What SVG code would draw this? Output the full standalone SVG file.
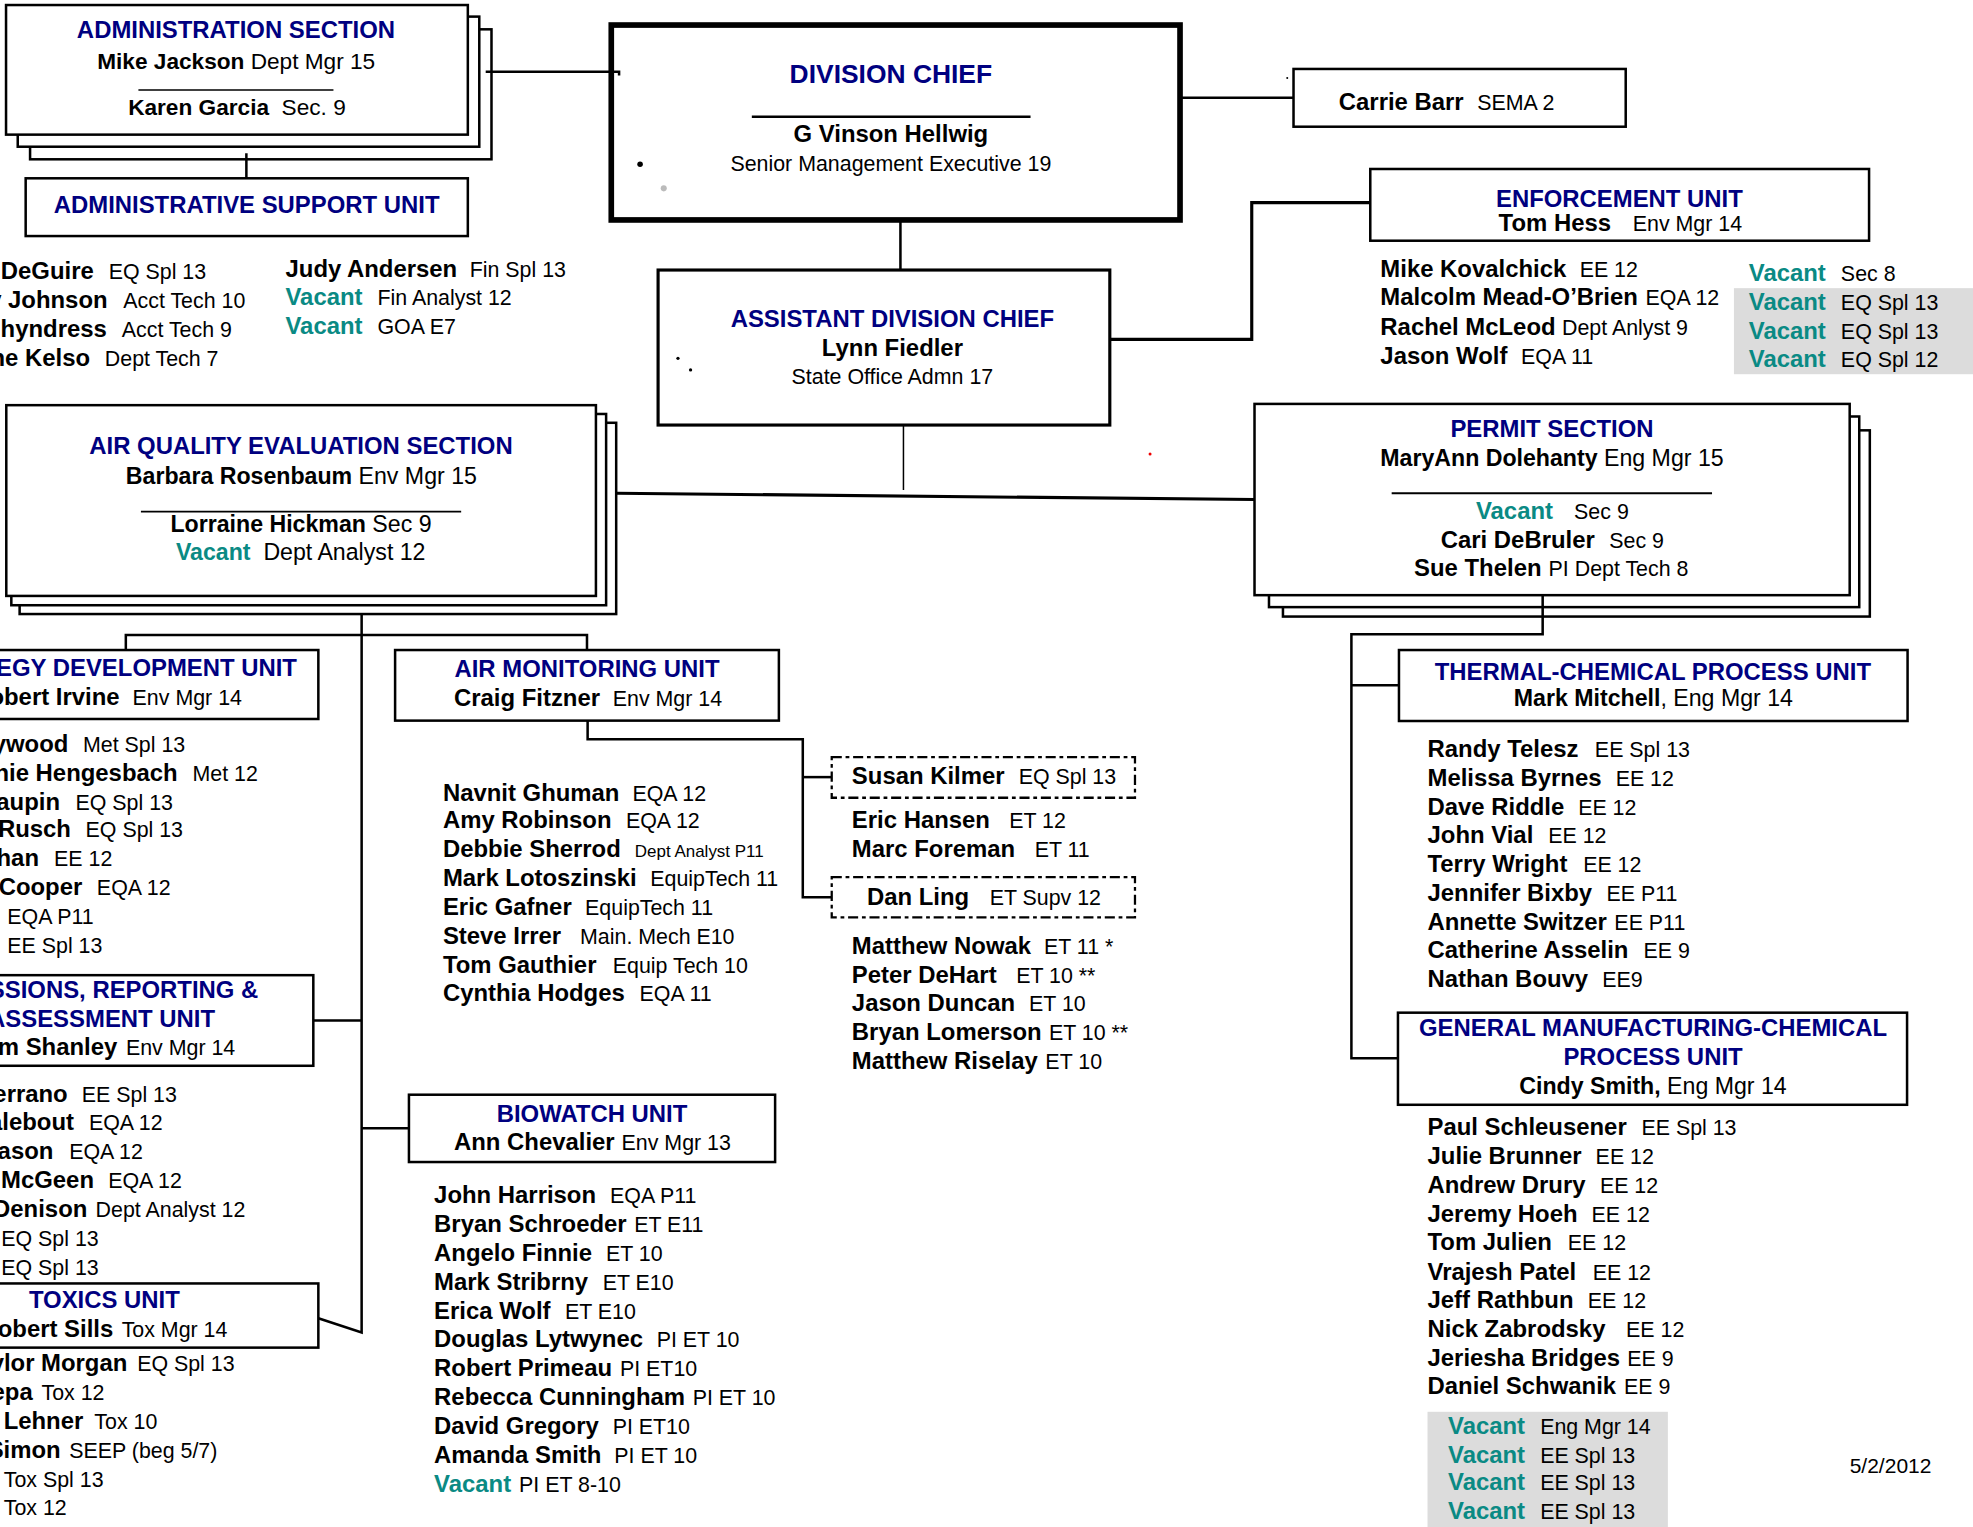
<svg xmlns="http://www.w3.org/2000/svg" width="1973" height="1527" viewBox="0 0 1973 1527">
<style>
text{font-family:"Liberation Sans",Arial,Helvetica,sans-serif;font-size:17px;fill:#000}
.h{font-size:18.4px}
.t{font-size:19px;font-weight:bold;fill:#000080}
.b{font-weight:bold}
.n{font-weight:bold;font-size:19px}
.v{font-weight:bold;fill:#0a8a84}
.vn{font-size:19px}
.m{text-anchor:middle}
.e{text-anchor:end}
.box{fill:#fff;stroke:#000;stroke-width:2}
.dash{fill:#fff;stroke:#000;stroke-width:1.8;stroke-dasharray:8 3 3 3}
.c{fill:none;stroke:#000;stroke-width:2}
.g{fill:#dcdcdc}
</style>
<rect width="1973" height="1527" fill="#fff"/>
<g transform="scale(1.25829)">

<g id="admin-section">
<rect class="box" x="23.9" y="23.3" width="366.7" height="103.3"/>
<rect class="box" x="14.1" y="13.2" width="366.8" height="103.4"/>
<rect class="box" x="4.8" y="4" width="367" height="103"/>
<text class="t m" x="187.5" y="30.5">ADMINISTRATION SECTION</text>
<text class="m" x="187.7" y="54.8" style="font-size:18px"><tspan class="b">Mike Jackson</tspan> Dept Mgr 15</text>
<line x1="110" y1="71.5" x2="265" y2="71.5" stroke="#000" stroke-width="1.3"/>
<text class="m" x="188.3" y="91.8" style="font-size:18px"><tspan class="b">Karen Garcia</tspan>&#160; Sec. 9</text>
</g>

<g id="admin-support-unit">
<rect class="box" x="20.4" y="141.7" width="351.4" height="45.9"/>
<text class="t m" x="196" y="169.5">ADMINISTRATIVE SUPPORT UNIT</text>
<text class="n e" x="74.5" y="221.6">DeGuire</text><text x="86.4" y="221.6">EQ Spl 13</text>
<text class="n e" x="85.5" y="245">y Johnson</text><text x="98" y="245">Acct Tech 10</text>
<text class="n e" x="84.9" y="268">hyndress</text><text x="96.8" y="268">Acct Tech 9</text>
<text class="n e" x="71.6" y="290.5">ne Kelso</text><text x="83.3" y="290.5">Dept Tech 7</text>
<text x="226.9" y="220.3"><tspan class="n">Judy Andersen</tspan><tspan x="373.3">Fin Spl 13</tspan></text>
<text x="226.9" y="242.8"><tspan class="v vn">Vacant</tspan><tspan x="300">Fin Analyst 12</tspan></text>
<text x="226.9" y="265.3"><tspan class="v vn">Vacant</tspan><tspan x="300">GOA E7</tspan></text>
</g>

<g id="division-chief">
<rect x="485.8" y="19.9" width="452" height="154.9" fill="#fff" stroke="#000" stroke-width="4.5"/>
<text class="m" x="708" y="66.2" style="font-size:21px;font-weight:bold;fill:#000080">DIVISION CHIEF</text>
<line x1="597.5" y1="92.7" x2="819" y2="92.7" stroke="#000" stroke-width="2"/>
<text class="b m" x="708" y="112.8" style="font-size:19px">G Vinson Hellwig</text>
<text class="m" x="708" y="135.8">Senior Management Executive 19</text>
<circle cx="508.7" cy="130.6" r="2.2" fill="#000"/>
<circle cx="527.5" cy="149.7" r="2.4" fill="#bbb"/>
</g>

<g id="carrie-barr">
<rect class="box" x="1028" y="54.8" width="264" height="45.9"/>
<text x="1064" y="87.8"><tspan class="n">Carrie Barr</tspan><tspan x="1174">SEMA 2</tspan></text>
<circle cx="1023" cy="62" r="0.8" fill="#000"/>
</g>

<g id="assistant-division-chief">
<rect class="box" x="523" y="214.6" width="359" height="123.2" style="stroke-width:2.5"/>
<text class="t m" x="709.2" y="259.8">ASSISTANT DIVISION CHIEF</text>
<text class="n m" x="709.2" y="283.3">Lynn Fiedler</text>
<text class="m" x="709.2" y="304.9">State Office Admn 17</text>
<circle cx="538.8" cy="284.8" r="1.3" fill="#000"/>
<circle cx="548.8" cy="294" r="1.3" fill="#000"/>
</g>

<g id="enforcement-unit">
<rect class="box" x="1089" y="134.3" width="396.4" height="57"/>
<text class="t m" x="1287" y="164.5">ENFORCEMENT UNIT</text>
<text x="1191" y="183.6"><tspan class="n">Tom Hess</tspan><tspan x="1297.6">Env Mgr 14</tspan></text>
<text x="1097" y="220.3"><tspan class="n">Mike Kovalchick</tspan><tspan x="1255.4">EE 12</tspan></text>
<text x="1097" y="242.8"><tspan class="n">Malcolm Mead-O’Brien</tspan><tspan x="1307.8">EQA 12</tspan></text>
<text x="1097" y="266.1"><tspan class="n">Rachel McLeod</tspan><tspan x="1241.4">Dept Anlyst 9</tspan></text>
<text x="1097" y="289.1"><tspan class="n">Jason Wolf</tspan><tspan x="1208.8">EQA 11</tspan></text>
<rect class="g" x="1378" y="229" width="200" height="68.4"/>
<text x="1389.8" y="223.7"><tspan class="v vn">Vacant</tspan><tspan x="1463">Sec 8</tspan></text>
<text x="1389.8" y="246.2"><tspan class="v vn">Vacant</tspan><tspan x="1463">EQ Spl 13</tspan></text>
<text x="1389.8" y="269.3"><tspan class="v vn">Vacant</tspan><tspan x="1463">EQ Spl 13</tspan></text>
<text x="1389.8" y="291.8"><tspan class="v vn">Vacant</tspan><tspan x="1463">EQ Spl 12</tspan></text>
</g>

<g id="air-quality-evaluation-section">
<rect class="box" x="15.6" y="336" width="474.1" height="152"/>
<rect class="box" x="9" y="329" width="472.7" height="152"/>
<rect class="box" x="5" y="322" width="468.6" height="151.6"/>
<text class="t m" x="239.2" y="360.5">AIR QUALITY EVALUATION SECTION</text>
<text class="h m" x="239.5" y="384.4"><tspan class="b">Barbara Rosenbaum</tspan> Env Mgr 15</text>
<line x1="112" y1="406.6" x2="366.5" y2="406.6" stroke="#000" stroke-width="1.5"/>
<text class="h m" x="239.2" y="422.8"><tspan class="b">Lorraine Hickman</tspan> Sec 9</text>
<text class="h m" x="239" y="445.3"><tspan class="v">Vacant</tspan>&#160; Dept Analyst 12</text>
</g>

<g id="permit-section">
<rect class="box" x="1019.6" y="342" width="466.4" height="148"/>
<rect class="box" x="1008.5" y="331" width="469.1" height="151.5"/>
<rect class="box" x="997" y="321" width="473" height="152"/>
<text class="t m" x="1233.4" y="347.2">PERMIT SECTION</text>
<text class="h m" x="1233.4" y="370.3"><tspan class="b">MaryAnn Dolehanty</tspan> Eng Mgr 15</text>
<line x1="1106" y1="392" x2="1360.6" y2="392" stroke="#000" stroke-width="1.5"/>
<text x="1173" y="412.4"><tspan class="v vn">Vacant</tspan><tspan x="1251">Sec 9</tspan></text>
<text x="1145" y="435.4"><tspan class="n">Cari DeBruler</tspan><tspan x="1279">Sec 9</tspan></text>
<text x="1123.8" y="457.9"><tspan class="n">Sue Thelen</tspan><tspan x="1230.7">PI Dept Tech 8</tspan></text>
</g>

<g id="strategy-development-unit">
<rect class="box" x="-90" y="516.6" width="343" height="54.8"/>
<text class="t e" x="236" y="537.4">EGY DEVELOPMENT UNIT</text>
<text class="n e" x="95" y="560.6">obert Irvine</text><text x="105.4" y="560.6">Env Mgr 14</text>
<text class="n e" x="54.3" y="597.8">ywood</text><text x="66" y="597.8">Met Spl 13</text>
<text class="n e" x="141.2" y="620.4">nie Hengesbach</text><text x="153" y="620.4">Met 12</text>
<text class="n e" x="47.7" y="643.4">aupin</text><text x="60" y="643.4">EQ Spl 13</text>
<text class="n e" x="56.4" y="665.4">Rusch</text><text x="68" y="665.4">EQ Spl 13</text>
<text class="n e" x="31" y="688.4">han</text><text x="43" y="688.4">EE 12</text>
<text class="n e" x="65.4" y="711.4">Cooper</text><text x="77" y="711.4">EQA 12</text>
<text x="5.8" y="734.4">EQA P11</text>
<text x="5.8" y="757.4">EE Spl 13</text>
</g>

<g id="emissions-reporting-assessment-unit">
<rect class="box" x="-90" y="775" width="339" height="72"/>
<text class="t e" x="205.3" y="793.1">SSIONS, REPORTING &amp;</text>
<text class="t e" x="170.9" y="816.1">ASSESSMENT UNIT</text>
<text class="n e" x="93.2" y="838.7">m Shanley</text><text x="100.1" y="838.7">Env Mgr 14</text>
<text class="n e" x="53.8" y="875.9">errano</text><text x="65" y="875.9">EE Spl 13</text>
<text class="n e" x="58.8" y="898.4">alebout</text><text x="70.7" y="898.4">EQA 12</text>
<text class="n e" x="42.4" y="921.4">ason</text><text x="55" y="921.4">EQA 12</text>
<text class="n e" x="74.7" y="944.4">McGeen</text><text x="86" y="944.4">EQA 12</text>
<text class="n e" x="69.4" y="967.4">Denison</text><text x="76" y="967.4">Dept Analyst 12</text>
<text x="1" y="990.4">EQ Spl 13</text>
<text x="1" y="1013.4">EQ Spl 13</text>
</g>

<g id="toxics-unit">
<rect class="box" x="-90" y="1020" width="343" height="51"/>
<text class="t" x="23" y="1039.9">TOXICS UNIT</text>
<text class="n e" x="90" y="1062.3">obert Sills</text><text x="96.7" y="1062.3">Tox Mgr 14</text>
<text class="n e" x="101.2" y="1089.4">ylor Morgan</text><text x="109" y="1089.4">EQ Spl 13</text>
<text class="n e" x="26" y="1112.4">epa</text><text x="33" y="1112.4">Tox 12</text>
<text class="n e" x="66.2" y="1135.4">Lehner</text><text x="75" y="1135.4">Tox 10</text>
<text class="n e" x="48.2" y="1158.4">Simon</text><text x="55" y="1158.4">SEEP (beg 5/7)</text>
<text x="3" y="1181.9">Tox Spl 13</text>
<text x="3" y="1204.4">Tox 12</text>
</g>

<g id="air-monitoring-unit">
<rect class="box" x="314" y="516.6" width="305" height="56.1"/>
<text class="t m" x="466.5" y="538">AIR MONITORING UNIT</text>
<text x="360.8" y="561.3"><tspan class="n">Craig Fitzner</tspan><tspan x="487">Env Mgr 14</tspan></text>
<text x="352" y="636.4"><tspan class="n">Navnit Ghuman</tspan><tspan x="502.6">EQA 12</tspan></text>
<text x="352" y="658.4"><tspan class="n">Amy Robinson</tspan><tspan x="497.5">EQA 12</tspan></text>
<text x="352" y="681.4"><tspan class="n">Debbie Sherrod</tspan><tspan x="504.5" style="font-size:13.5px">Dept Analyst P11</tspan></text>
<text x="352" y="704.4"><tspan class="n">Mark Lotoszinski</tspan><tspan x="516.8">EquipTech 11</tspan></text>
<text x="352" y="726.8"><tspan class="n">Eric Gafner</tspan><tspan x="465">EquipTech 11</tspan></text>
<text x="352" y="750"><tspan class="n">Steve Irrer</tspan><tspan x="461">Main. Mech E10</tspan></text>
<text x="352" y="772.9"><tspan class="n">Tom Gauthier</tspan><tspan x="487">Equip Tech 10</tspan></text>
<text x="352" y="795.4"><tspan class="n">Cynthia Hodges</tspan><tspan x="508.3">EQA 11</tspan></text>
</g>

<g id="susan-kilmer">
<rect class="dash" x="661" y="601.8" width="241" height="32.2"/>
<text x="677" y="623.4"><tspan class="n">Susan Kilmer</tspan><tspan x="809.6">EQ Spl 13</tspan></text>
<text x="677" y="658.4"><tspan class="n">Eric Hansen</tspan><tspan x="802">ET 12</tspan></text>
<text x="677" y="681.4"><tspan class="n">Marc Foreman</tspan><tspan x="822.3">ET 11</tspan></text>
</g>

<g id="dan-ling">
<rect class="dash" x="661" y="697" width="241" height="32"/>
<text x="689" y="719"><tspan class="n">Dan Ling</tspan><tspan x="786.5">ET Supv 12</tspan></text>
<text x="677" y="757.9"><tspan class="n">Matthew Nowak</tspan><tspan x="829.7">ET 11 *</tspan></text>
<text x="677" y="780.9"><tspan class="n">Peter DeHart</tspan><tspan x="807.6">ET 10 **</tspan></text>
<text x="677" y="803.4"><tspan class="n">Jason Duncan</tspan><tspan x="817.8">ET 10</tspan></text>
<text x="677" y="826.4"><tspan class="n">Bryan Lomerson</tspan><tspan x="833.6">ET 10 **</tspan></text>
<text x="677" y="849.4"><tspan class="n">Matthew Riselay</tspan><tspan x="830.8">ET 10</tspan></text>
</g>

<g id="biowatch-unit">
<rect class="box" x="325" y="870" width="291" height="53.5"/>
<text class="t m" x="470.5" y="891.6">BIOWATCH UNIT</text>
<text x="360.8" y="914.3"><tspan class="n">Ann Chevalier</tspan><tspan x="494">Env Mgr 13</tspan></text>
<text x="345" y="956.2"><tspan class="n">John Harrison</tspan><tspan x="484.8">EQA P11</tspan></text>
<text x="345" y="979.2"><tspan class="n">Bryan Schroeder</tspan><tspan x="504">ET E11</tspan></text>
<text x="345" y="1002.1"><tspan class="n">Angelo Finnie</tspan><tspan x="481.6">ET 10</tspan></text>
<text x="345" y="1025"><tspan class="n">Mark Stribrny</tspan><tspan x="479">ET E10</tspan></text>
<text x="345" y="1047.9"><tspan class="n">Erica Wolf</tspan><tspan x="449">ET E10</tspan></text>
<text x="345" y="1070.8"><tspan class="n">Douglas Lytwynec</tspan><tspan x="521.9">PI ET 10</tspan></text>
<text x="345" y="1093.7"><tspan class="n">Robert Primeau</tspan><tspan x="492.7">PI ET10</tspan></text>
<text x="345" y="1116.6"><tspan class="n">Rebecca Cunningham</tspan><tspan x="550.5">PI ET 10</tspan></text>
<text x="345" y="1139.5"><tspan class="n">David Gregory</tspan><tspan x="486.9">PI ET10</tspan></text>
<text x="345" y="1162.4"><tspan class="n">Amanda Smith</tspan><tspan x="488.2">PI ET 10</tspan></text>
<text x="345" y="1185.4"><tspan class="v vn">Vacant</tspan><tspan x="412.5">PI ET 8-10</tspan></text>
</g>

<g id="thermal-chemical-process-unit">
<rect class="box" x="1111.8" y="516.6" width="404.2" height="56.4"/>
<text class="t m" x="1313.6" y="540.6">THERMAL-CHEMICAL PROCESS UNIT</text>
<text class="h m" x="1314" y="561.1"><tspan class="b">Mark Mitchell</tspan>, Eng Mgr 14</text>
<text x="1134.5" y="601.4"><tspan class="n">Randy Telesz</tspan><tspan x="1267.5">EE Spl 13</tspan></text>
<text x="1134.5" y="624.8"><tspan class="n">Melissa Byrnes</tspan><tspan x="1284">EE 12</tspan></text>
<text x="1134.5" y="647.4"><tspan class="n">Dave Riddle</tspan><tspan x="1254.2">EE 12</tspan></text>
<text x="1134.5" y="670.1"><tspan class="n">John Vial</tspan><tspan x="1230.4">EE 12</tspan></text>
<text x="1134.5" y="693.1"><tspan class="n">Terry Wright</tspan><tspan x="1258.2">EE 12</tspan></text>
<text x="1134.5" y="716.2"><tspan class="n">Jennifer Bixby</tspan><tspan x="1276.7">EE P11</tspan></text>
<text x="1134.5" y="738.9"><tspan class="n">Annette Switzer</tspan><tspan x="1283">EE P11</tspan></text>
<text x="1134.5" y="761.4"><tspan class="n">Catherine Asselin</tspan><tspan x="1306.2">EE 9</tspan></text>
<text x="1134.5" y="784.4"><tspan class="n">Nathan Bouvy</tspan><tspan x="1273.4">EE9</tspan></text>
</g>

<g id="general-manufacturing-chemical-process-unit">
<rect class="box" x="1111" y="804.8" width="404.6" height="73.2"/>
<text class="t m" x="1313.7" y="823.5">GENERAL MANUFACTURING-CHEMICAL</text>
<text class="t m" x="1313.7" y="846.6">PROCESS UNIT</text>
<text class="h m" x="1313.7" y="869.1"><tspan class="b">Cindy Smith,</tspan> Eng Mgr 14</text>
<text x="1134.5" y="902.4"><tspan class="n">Paul Schleusener</tspan><tspan x="1304.5">EE Spl 13</tspan></text>
<text x="1134.5" y="925.4"><tspan class="n">Julie Brunner</tspan><tspan x="1268.1">EE 12</tspan></text>
<text x="1134.5" y="948.2"><tspan class="n">Andrew Drury</tspan><tspan x="1271.5">EE 12</tspan></text>
<text x="1134.5" y="970.8"><tspan class="n">Jeremy Hoeh</tspan><tspan x="1264.9">EE 12</tspan></text>
<text x="1134.5" y="993.8"><tspan class="n">Tom Julien</tspan><tspan x="1246">EE 12</tspan></text>
<text x="1134.5" y="1016.9"><tspan class="n">Vrajesh Patel</tspan><tspan x="1265.8">EE 12</tspan></text>
<text x="1134.5" y="1039.4"><tspan class="n">Jeff Rathbun</tspan><tspan x="1261.9">EE 12</tspan></text>
<text x="1134.5" y="1062.7"><tspan class="n">Nick Zabrodsky</tspan><tspan x="1292.3">EE 12</tspan></text>
<text x="1134.5" y="1085.8"><tspan class="n">Jeriesha Bridges</tspan><tspan x="1293.3">EE 9</tspan></text>
<text x="1134.5" y="1108.2"><tspan class="n">Daniel Schwanik</tspan><tspan x="1290.7">EE 9</tspan></text>
<rect class="g" x="1134.5" y="1122" width="191" height="95"/>
<text x="1150.8" y="1139.4"><tspan class="v vn">Vacant</tspan><tspan x="1224">Eng Mgr 14</tspan></text>
<text x="1150.8" y="1162.4"><tspan class="v vn">Vacant</tspan><tspan x="1224">EE Spl 13</tspan></text>
<text x="1150.8" y="1184.4"><tspan class="v vn">Vacant</tspan><tspan x="1224">EE Spl 13</tspan></text>
<text x="1150.8" y="1206.9"><tspan class="v vn">Vacant</tspan><tspan x="1224">EE Spl 13</tspan></text>
</g>

<g id="connectors">
<path class="c" d="M386 57 H492 V60"/>
<path class="c" d="M195.8 121.8 V141.7"/>
<path class="c" d="M715.6 174.8 V214.6"/>
<path class="c" d="M718 337.8 V389.4" style="stroke-width:1.2"/>
<path class="c" d="M937.8 77.6 H1028"/>
<path class="c" d="M882 269.7 H994.8 V161 H1089" style="stroke-width:2.5"/>
<path class="c" d="M490 392 L997 397" style="stroke-width:2.5"/>
<path class="c" d="M287.4 488 V1059 L253 1047.6"/>
<path class="c" d="M100 516.6 V504.6 H466.5 V516.6"/>
<path class="c" d="M249 811 H287.4"/>
<path class="c" d="M287.4 896.6 H325"/>
<path class="c" d="M467 572.7 V587.5 H638 V713 H661"/>
<path class="c" d="M638 617.6 H661"/>
<path class="c" d="M1226 473 V504 H1074 V841 H1111"/>
<path class="c" d="M1074 544.6 H1111.8"/>
</g>

<circle cx="914" cy="360.8" r="1.2" fill="#e00"/>
<text x="1470" y="1171" style="font-size:16.7px">5/2/2012</text>
</g>
</svg>
